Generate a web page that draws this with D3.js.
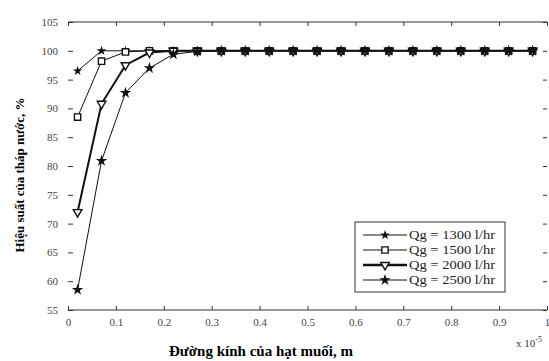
<!DOCTYPE html>
<html>
<head>
<meta charset="utf-8">
<script src="https://cdn.jsdelivr.net/npm/d3@7"></script>
<style>
  body { margin: 0; background: #fff; }
  svg { display: block; }
  .tick text { font-family: "Liberation Serif", "DejaVu Serif", serif; font-size: 11px; fill: #444; }
  .tick line { stroke: #333; }
  .domain { stroke: #333; }
</style>
</head>
<body>
<div id="chart"></div>
<script>
// droplet diameter (x 1e-5 m)
const diameters = [0.02, 0.07, 0.12, 0.17, 0.22, 0.27, 0.32, 0.37, 0.42, 0.47,
                   0.52, 0.57, 0.62, 0.67, 0.72, 0.77, 0.82, 0.87, 0.92, 0.97]

// tower efficiency (%) per water flow rate
const eff1300 = [96.5, 100, 100, 100, 100, 100, 100, 100, 100, 100,
                 100, 100, 100, 100, 100, 100, 100, 100, 100, 100]
const eff1500 = [88.5, 98.2, 99.8, 100, 100, 100, 100, 100, 100, 100,
                 100, 100, 100, 100, 100, 100, 100, 100, 100, 100]
const eff2000 = [72, 90.8, 97.5, 99.7, 100, 100, 100, 100, 100, 100,
                 100, 100, 100, 100, 100, 100, 100, 100, 100, 100]
const eff2500 = [58.5, 80.9, 92.7, 97, 99.4, 99.9, 100, 100, 100, 100,
                 100, 100, 100, 100, 100, 100, 100, 100, 100, 100]

const seriesNames = ['Qg = 1300 l/hr', 'Qg = 1500 l/hr', 'Qg = 2000 l/hr', 'Qg = 2500 l/hr']
const xTicks = [0, 0.1, 0.2, 0.3, 0.4, 0.5, 0.6, 0.7, 0.8, 0.9, 1]
const yTicks = [55, 60, 65, 70, 75, 80, 85, 90, 95, 100, 105]

const W = 549, H = 361
const m = {left: 68, right: 547, top: 22, bottom: 310}

const svg = d3.select('#chart').append('svg')
  .attr('width', W).attr('height', H)

const x = d3.scaleLinear().domain([0, 1]).range([m.left, m.right])
const y = d3.scaleLinear().domain([55, 105]).range([m.bottom, m.top])

// axes, ticks pointing inward like the matlab box
svg.append('g')
  .attr('transform', `translate(0,${m.bottom})`)
  .call(d3.axisBottom(x).tickValues(xTicks).tickSize(-4).tickPadding(8)
    .tickFormat(d => d === 0 ? '0' : d === 1 ? '1' : d3.format('.1f')(d)))
  .call(g => g.select('.domain').attr('d', `M${m.left},0H${m.right}`))

svg.append('g')
  .attr('transform', `translate(0,${m.top})`)
  .call(d3.axisTop(x).tickValues(xTicks).tickSize(-4).tickFormat(''))
  .call(g => g.select('.domain').attr('d', `M${m.left},0H${m.right}`))

svg.append('g')
  .attr('transform', `translate(${m.left},0)`)
  .call(d3.axisLeft(y).tickValues(yTicks).tickSize(-5).tickPadding(10))
  .call(g => g.select('.domain').remove())

svg.append('g')
  .attr('transform', `translate(${m.right},0)`)
  .call(d3.axisRight(y).tickValues(yTicks).tickSize(-4).tickFormat(''))
  .call(g => g.select('.domain').remove())

const series = [
  {name: seriesNames[0], values: eff1300, sym: d3.symbolStar, size: 9, fill: '#111', lw: 1},
  {name: seriesNames[1], values: eff1500, sym: d3.symbolSquare, size: 40, fill: '#fff', lw: 1},
  {name: seriesNames[2], values: eff2000, sym: d3.symbolTriangle, size: 32, fill: '#fff', lw: 2, flip: true},
  {name: seriesNames[3], values: eff2500, sym: d3.symbolStar, size: 16, fill: '#111', lw: 1}
]

const line = d3.line()
  .x(d => x(d[0]))
  .y(d => y(d[1]))

function marker (g, s, cx, cy) {
  g.append('path')
    .attr('d', d3.symbol().type(s.sym).size(s.size)())
    .attr('transform', `translate(${cx},${cy})` + (s.flip ? ' rotate(180)' : ''))
    .attr('fill', s.fill)
    .attr('stroke', '#111')
    .attr('stroke-width', 1.4)
}

series.forEach(s => {
  const pts = diameters.map((d, i) => [d, s.values[i]])
  const g = svg.append('g')
  g.append('path')
    .datum(pts)
    .attr('d', line)
    .attr('fill', 'none')
    .attr('stroke', '#111')
    .attr('stroke-width', s.lw)
  pts.forEach(p => marker(g, s, x(p[0]), y(p[1])))
})

// legend
const lg = svg.append('g').attr('transform', 'translate(355,222)')
lg.append('rect')
  .attr('width', 150).attr('height', 70)
  .attr('fill', '#fff').attr('stroke', '#333')
series.forEach((s, i) => {
  const ly = 13 + i * 15
  lg.append('line')
    .attr('x1', 8).attr('x2', 52).attr('y1', ly).attr('y2', ly)
    .attr('stroke', '#111').attr('stroke-width', s.lw === 2 ? 2.5 : 1)
  marker(lg, s, 30, ly)
  lg.append('text')
    .attr('x', 54).attr('y', ly + 4)
    .attr('textLength', 86).attr('lengthAdjust', 'spacingAndGlyphs')
    .style('font-family', '"Liberation Serif", serif')
    .style('font-size', '12px')
    .style('fill', '#222')
    .text(s.name)
})

// axis titles
svg.append('text')
  .attr('x', 261).attr('y', 356)
  .attr('text-anchor', 'middle')
  .style('font-family', '"Liberation Serif", serif')
  .style('font-size', '15px').style('font-weight', 'bold')
  .text('Đường kính của hạt muối, m')

svg.append('text')
  .attr('transform', 'translate(24,175) rotate(-90)')
  .attr('text-anchor', 'middle')
  .style('font-family', '"Liberation Serif", serif')
  .style('font-size', '13px').style('font-weight', 'bold')
  .text('Hiệu suất của tháp nước, %')

// scale multiplier
const mult = svg.append('text')
  .attr('x', 516).attr('y', 347)
  .style('font-family', '"Liberation Serif", serif')
  .style('font-size', '11px').style('fill', '#333')
mult.append('tspan').text('x 10')
mult.append('tspan').attr('dy', -5).style('font-size', '8px').text('-5')
</script>
</body>
</html>
